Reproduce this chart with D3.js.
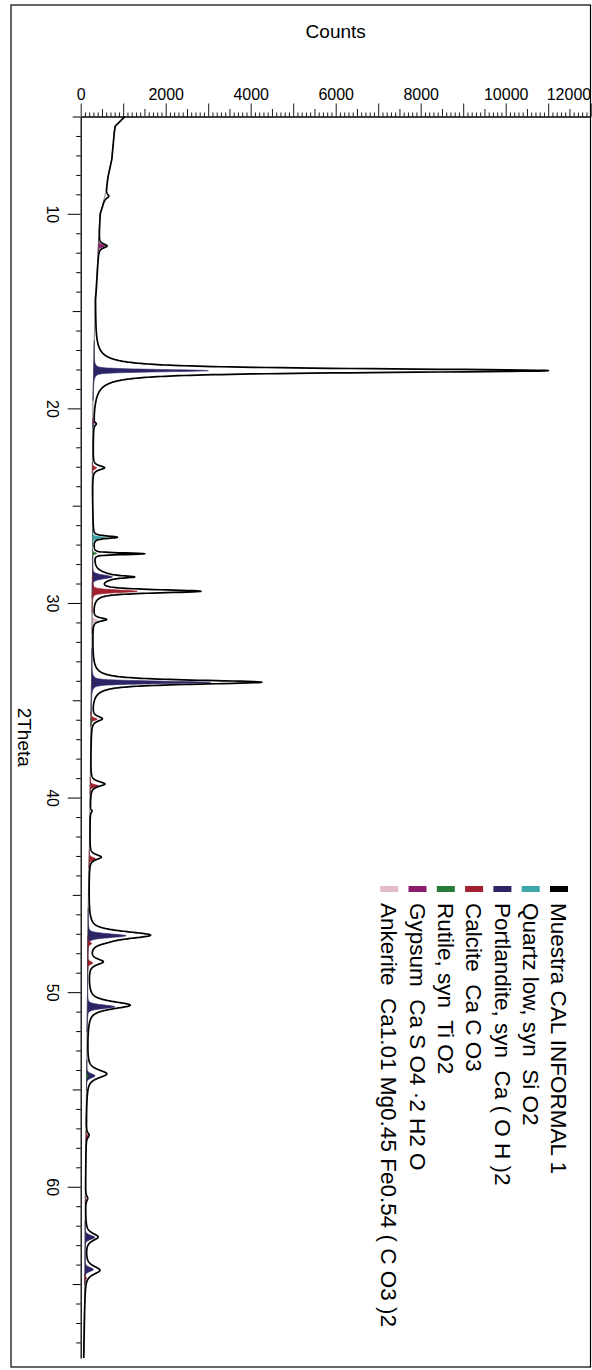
<!DOCTYPE html>
<html>
<head>
<meta charset="utf-8">
<script src="https://cdn.jsdelivr.net/npm/d3@7/dist/d3.min.js"></script>
<style>
  html, body { margin: 0; padding: 0; background: #fff; }
  svg { display: block; font-family: "Liberation Sans", Arial, Helvetica, sans-serif; }
</style>
</head>
<body>
<svg id="chart" width="592" height="1370"></svg>
<script>
// ---- Scan range and axis labels ----
const thetaRange = [5, 68.8];
const countRange = [0, 12000];
const countTickLabels = ["0", "2000", "4000", "6000", "8000", "10000", "12000"];
const thetaTickLabels = ["10", "20", "30", "40", "50", "60"];

// ---- Background level of the measured scan (2Theta, counts) ----
const bgTheta  = [5.0, 5.5, 5.8, 6.5, 7.2, 8.1, 8.9, 9.6, 10.0, 11.0, 12.4, 13.8, 14.4, 15.5, 16.5, 17.5, 19.0, 20.0, 22.0, 24.0, 26.0, 28.0, 30.0, 32.0, 34.0, 36.0, 38.0, 40.0, 42.0, 44.0, 46.0, 48.0, 50.0, 52.0, 54.0, 56.0, 58.0, 60.0, 62.0, 64.0, 66.0, 68.8];
const bgCounts = [1040, 810, 790, 760, 730, 640, 590, 510, 455, 430, 400, 360, 336, 330, 320, 310, 295, 285, 280, 270, 280, 280, 270, 265, 255, 240, 230, 220, 210, 190, 175, 165, 160, 150, 140, 130, 120, 110, 105, 100, 90, 70];

// ---- Measured reflections: position, net height, FWHM, Lorentz fraction ----
const obsPos    = [9.1, 11.65, 18.06, 20.8, 23.05, 26.62, 27.47, 28.66, 28.66, 29.40, 30.85, 34.07, 35.95, 39.3, 40.7, 43.06, 47.07, 47.45, 48.44, 50.67, 54.2, 57.35, 60.6, 62.58, 64.29];
const obsHeight = [90, 200, 10700, 60, 280, 570, 1200, 500, 450, 2510, 320, 4000, 250, 340, 40, 280, 1450, 150, 330, 1000, 470, 70, 50, 300, 350];
const obsFwhm   = [0.25, 0.25, 0.25, 0.2, 0.25, 0.15, 0.1, 0.12, 0.5, 0.2, 0.2, 0.26, 0.3, 0.3, 0.2, 0.3, 0.45, 0.3, 0.35, 0.45, 0.5, 0.3, 0.3, 0.45, 0.5];
const obsEta    = [0.8, 0.8, 1.0, 0.8, 0.8, 0.7, 0.5, 0.6, 0.8, 0.8, 0.8, 0.9, 0.8, 0.8, 0.8, 0.8, 0.7, 0.8, 0.8, 0.8, 0.8, 0.8, 0.8, 0.8, 0.8];

// ---- Identified phases: reflection positions, net heights, FWHM ----
const phaseNames = [
  "Muestra CAL INFORMAL 1",
  "Quartz low, syn  Si O2",
  "Portlandite, syn  Ca ( O H )2",
  "Calcite  Ca C O3",
  "Rutile, syn  Ti O2",
  "Gypsum  Ca S O4 \u00B72 H2 O",
  "Ankerite  Ca1.01 Mg0.45 Fe0.54 ( C O3 )2"
];
const phaseColors = ["#000000", "#3ea6a8", "#2b2566", "#a3202e", "#2a7a3a", "#8c1c6c", "#e3b9cc"];

const quartzPos = [20.86, 26.64];
const quartzInt = [40, 330];
const quartzW   = [0.15, 0.12];

const portlanditePos = [18.06, 28.66, 34.08, 47.1, 50.75, 54.3, 62.6, 64.25];
const portlanditeInt = [2700, 470, 2800, 900, 650, 200, 230, 200];
const portlanditeW   = [0.14, 0.22, 0.15, 0.22, 0.22, 0.25, 0.25, 0.25];

const calcitePos = [23.06, 29.40, 31.4, 35.97, 39.4, 43.15, 47.5, 48.5, 56.6, 57.4, 60.7, 64.7];
const calciteInt = [100, 1060, 20, 150, 200, 150, 90, 120, 20, 50, 30, 40];
const calciteW   = [0.15, 0.16, 0.15, 0.15, 0.15, 0.18, 0.18, 0.18, 0.18, 0.18, 0.18, 0.18];

const rutilePos = [27.45, 36.09, 54.3];
const rutileInt = [100, 30, 40];
const rutileW   = [0.1, 0.15, 0.18];

const gypsumPos = [11.65, 20.72, 29.1];
const gypsumInt = [160, 50, 20];
const gypsumW   = [0.16, 0.15, 0.15];

const ankeritePos = [30.9, 41.1, 44.9];
const ankeriteInt = [140, 20, 20];
const ankeriteW   = [0.15, 0.15, 0.15];

const phases = [
  { pos: quartzPos, int: quartzInt, w: quartzW, color: phaseColors[1] },
  { pos: portlanditePos, int: portlanditeInt, w: portlanditeW, color: phaseColors[2] },
  { pos: calcitePos, int: calciteInt, w: calciteW, color: phaseColors[3] },
  { pos: rutilePos, int: rutileInt, w: rutileW, color: phaseColors[4] },
  { pos: gypsumPos, int: gypsumInt, w: gypsumW, color: phaseColors[5] },
  { pos: ankeritePos, int: ankeriteInt, w: ankeriteW, color: phaseColors[6] }
];

// ---- Profile helpers ----
const LN2x4 = 4 * Math.LN2;
function pseudoVoigt(t, c, h, w, eta) {
  const u = (t - c) / w;
  return h * (eta / (1 + 4 * u * u) + (1 - eta) * Math.exp(-LN2x4 * u * u));
}
const bgAt = d3.scaleLinear().domain(bgTheta).range(bgCounts).clamp(true);

const step = 0.01;
const thetaGrid = d3.range(thetaRange[0], thetaRange[1] + step / 2, step);

const observed = thetaGrid.map(t => {
  let v = bgAt(t);
  for (let i = 0; i < obsPos.length; i++) v += pseudoVoigt(t, obsPos[i], obsHeight[i], obsFwhm[i], obsEta[i]);
  return { t, v };
});

function phaseProfile(ph) {
  return thetaGrid.map(t => {
    let v = 0;
    for (let i = 0; i < ph.pos.length; i++) v += pseudoVoigt(t, ph.pos[i], ph.int[i], ph.w[i], 0.35);
    return { t, b: bgAt(t), v };
  });
}

// ---- Layout ----
const svg = d3.select("#chart");
const plotLeft = 80.7, plotRight = 590.7, plotTop = 116.5, plotBottom = 1358;

const x = d3.scaleLinear().domain(countRange).range([plotLeft, plotRight]);
const y = d3.scaleLinear().domain(thetaRange).range([plotTop, plotBottom]);

// outer frame
svg.append("rect")
  .attr("x", 11).attr("y", 5)
  .attr("width", 579.5).attr("height", 1362)
  .attr("fill", "none").attr("stroke", "#000").attr("stroke-width", 1.2);

// phase profiles, filled from the background
const plot = svg.append("g");
phases.forEach(ph => {
  const prof = phaseProfile(ph).filter(d => d.v > 2);
  // split into contiguous runs so fills only appear around reflections
  const runs = [];
  let cur = [];
  prof.forEach(d => {
    if (cur.length && Math.abs(d.t - cur[cur.length - 1].t) > step * 1.5) { runs.push(cur); cur = []; }
    cur.push(d);
  });
  if (cur.length) runs.push(cur);
  const area = d3.area()
    .y(d => y(d.t))
    .x0(d => x(d.b))
    .x1(d => x(d.b + d.v));
  runs.forEach(r => {
    plot.append("path")
      .attr("d", area(r))
      .attr("fill", ph.color)
      .attr("stroke", ph.color)
      .attr("stroke-width", 0.6);
  });
});

// fitted background
plot.append("path")
  .datum(thetaGrid)
  .attr("d", d3.line().x(t => x(bgAt(t))).y(t => y(t)))
  .attr("fill", "none").attr("stroke", "#444").attr("stroke-width", 0.8);

// measured scan
plot.append("path")
  .datum(observed)
  .attr("d", d3.line().x(d => x(d.v)).y(d => y(d.t)))
  .attr("fill", "none")
  .attr("stroke", "#000")
  .attr("stroke-width", 1.7)
  .attr("stroke-linejoin", "round");

// ---- Counts ruler (top) ----
const countAxis = d3.axisTop(x)
  .tickValues(d3.range(countRange[0], countRange[1] + 1, 100))
  .tickSizeOuter(0)
  .tickFormat(d => (d % 2000 === 0 ? countTickLabels[d / 2000] : ""));
const gx = svg.append("g").attr("transform", `translate(0,${plotTop})`).call(countAxis);
gx.select(".domain").attr("stroke", "#000").attr("stroke-width", 1.3);
gx.selectAll(".tick line")
  .attr("stroke", "#000")
  .attr("stroke-width", 0.9)
  .attr("y2", d => (d % 1000 === 0 ? -13 : d % 500 === 0 ? -7.5 : -4));
gx.selectAll(".tick text")
  .attr("y", -17)
  .attr("dy", 0)
  .attr("font-size", 16)
  .attr("fill", "#000")
  .attr("font-family", "\"Liberation Sans\", Arial, sans-serif");
gx.selectAll(".tick text").filter(d => d === countRange[1])
  .attr("text-anchor", "end").attr("x", plotRight - x(countRange[1]));

// ---- 2Theta axis (left) ----
const thetaAxis = d3.axisLeft(y)
  .tickValues(d3.range(5, 69, 1))
  .tickSizeOuter(0)
  .tickFormat(d => (d % 10 === 0 ? thetaTickLabels[d / 10 - 1] : ""));
const gy = svg.append("g").attr("transform", `translate(${plotLeft},0)`).call(thetaAxis);
gy.select(".domain").attr("stroke", "#000").attr("stroke-width", 1.3);
gy.selectAll(".tick line")
  .attr("stroke", "#000")
  .attr("stroke-width", 1)
  .attr("x2", d => (d % 10 === 0 ? -13 : d % 5 === 0 ? -8 : -4.5));
gy.selectAll(".tick text")
  .attr("x", 0).attr("y", 0).attr("dy", "0.35em")
  .attr("text-anchor", "middle")
  .attr("transform", "translate(-27.7,0) rotate(90)")
  .attr("font-size", 16)
  .attr("fill", "#000")
  .attr("font-family", "\"Liberation Sans\", Arial, sans-serif");

// ---- Axis titles ----
svg.append("text")
  .attr("x", (plotLeft + plotRight) / 2).attr("y", 38)
  .attr("text-anchor", "middle")
  .attr("font-size", 19)
  .text("Counts");

svg.append("text")
  .attr("transform", `translate(25,${(plotTop + plotBottom) / 2}) rotate(90)`)
  .attr("text-anchor", "middle")
  .attr("dy", "0.35em")
  .attr("font-size", 19)
  .text("2Theta");

// ---- Legend ----
const legend = svg.append("g");
phaseNames.forEach((name, i) => {
  const cx = 559 - i * 28.3;
  legend.append("rect")
    .attr("x", cx - 9).attr("y", 886)
    .attr("width", 18).attr("height", 6)
    .attr("fill", phaseColors[i]);
  legend.append("text")
    .attr("transform", `translate(${cx},903) rotate(90)`)
    .attr("dy", "0.35em")
    .attr("font-size", 22.5)
    .style("white-space", "pre")
    .text(name);
});
</script>
</body>
</html>
